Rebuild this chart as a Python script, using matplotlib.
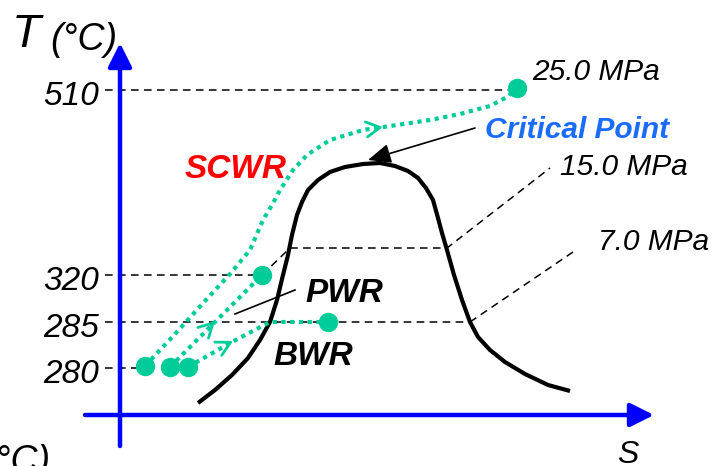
import numpy as np
import matplotlib
matplotlib.use("Agg")
import matplotlib.pyplot as plt

plt.rcParams['font.family'] = ['Liberation Sans', 'DejaVu Sans']

# schematic T-s diagram, everything in pixel coordinates of a 712x466 canvas
GREEN = '#00cc99'
BLUE = '#0000ff'

# saturation dome
dome_x = [198, 215, 232, 248, 260, 270, 277, 283, 288, 292, 297, 302, 308, 318, 330, 345,
          363, 380, 395, 408, 418, 426, 433, 438, 442, 447, 454, 462, 470, 478, 490, 505,
          525, 548, 570]
dome_y = [403, 390, 375, 358, 340, 322, 300, 275, 255, 235, 215, 202, 190, 180, 172, 167,
          164, 163, 166, 171, 178, 188, 200, 218, 233, 250, 275, 300, 322, 337, 350, 362,
          374, 385, 391]

# heating paths
scwr_x = [145, 175, 205, 230, 250, 263, 272, 280, 293, 307, 330, 363, 397, 430, 460, 490, 507, 517]
scwr_y = [366, 334, 301, 274, 250, 220, 205, 190, 170, 155, 140, 130, 125, 120, 114, 106, 97, 88]
pwr_x = [170, 215, 262]
pwr_y = [367, 322, 275]
bwr_x = [188, 230, 270, 328]
bwr_y = [367, 343, 322, 322]

# state points
pts_x = [145, 170, 188, 262, 328, 517]
pts_y = [366, 367, 367, 275, 322, 88]

# chevrons on the paths
chev_scwr = (383, 127)
chev_pwr = (215, 321)
chev_bwr = (233, 341)

# temperature ticks
tick_labels = ['510', '320', '285', '280']
tick_rows = [90, 275, 322, 368]
tick_ends = [517, 262, 470, 145]

# pressure iso-lines (dashed)
p15_x = [262, 290, 447, 550]
p15_y = [275, 248, 248, 168]
p7_x = [470, 573]
p7_y = [322, 252]

fig = plt.figure(figsize=(7.12, 4.66), dpi=100)
ax = fig.add_axes([0, 0, 1, 1])
ax.set_xlim(0, 712)
ax.set_ylim(466, 0)
ax.axis('off')

dash = dict(color='black', lw=1.1, ls=(0, (5, 3.5)))

# dashed temperature lines
for y, xe in zip(tick_rows, tick_ends):
    ax.plot([105, xe], [y, y], **dash, zorder=2)
ax.plot(p15_x, p15_y, **dash, zorder=2)
ax.plot(p7_x, p7_y, **dash, zorder=2)

# dome
ax.plot(dome_x, dome_y, color='black', lw=3, solid_capstyle='butt', zorder=3)

# paths
dot = dict(color=GREEN, lw=3, ls=(0, (1, 1.1)), dash_capstyle='butt', zorder=4)
ax.plot(scwr_x, scwr_y, **dot)
ax.plot(pwr_x, pwr_y, **dot)
ax.plot(bwr_x, bwr_y, **dot)


def chevron(xs, ys, tip):
    xs = np.asarray(xs, float)
    ys = np.asarray(ys, float)
    mids = np.c_[(xs[:-1] + xs[1:]) / 2, (ys[:-1] + ys[1:]) / 2]
    i = np.argmin(np.hypot(mids[:, 0] - tip[0], mids[:, 1] - tip[1]))
    d = np.array([xs[i + 1] - xs[i], ys[i + 1] - ys[i]])
    d = d / np.hypot(*d)
    start = (tip[0] - d[0] * 6, tip[1] - d[1] * 6)
    ax.annotate('', xy=tip, xytext=start,
                arrowprops=dict(arrowstyle='->,head_length=0.55,head_width=0.3',
                                color=GREEN, lw=2, mutation_scale=18,
                                shrinkA=0, shrinkB=0), zorder=5)


chevron(scwr_x, scwr_y, chev_scwr)
chevron(pwr_x, pwr_y, chev_pwr)
chevron(bwr_x, bwr_y, chev_bwr)

ax.plot(pts_x, pts_y, 'o', color=GREEN, ms=14, mec='none', zorder=6)

# axes arrows
ax.annotate('', xy=(120, 43), xytext=(120, 446),
            arrowprops=dict(arrowstyle='-|>,head_length=0.6,head_width=0.3', color=BLUE,
                            lw=3.2, mutation_scale=24, shrinkA=0, shrinkB=0))
ax.annotate('', xy=(654, 415), xytext=(85, 415),
            arrowprops=dict(arrowstyle='-|>,head_length=0.6,head_width=0.3', color=BLUE,
                            lw=3.2, mutation_scale=24, shrinkA=0, shrinkB=0))

# critical point arrow and PWR pointer
ax.annotate('', xy=(368, 160), xytext=(475, 128),
            arrowprops=dict(arrowstyle='-|>,head_length=0.7,head_width=0.3', color='black',
                            lw=1.2, mutation_scale=20, shrinkA=0, shrinkB=0))
ax.plot([295, 235], [290, 314], color='black', lw=1.2)

# labels
for lab, y in zip(tick_labels, tick_rows):
    ax.text(99, y + 15, lab, ha='right', va='baseline', fontsize=24, style='italic')

ax.text(12, 47, 'T', fontsize=34, style='italic', va='baseline')
ax.text(50, 50, '(°C)', fontsize=27, style='italic', va='baseline')
ax.text(-17, 472, '(°C)', fontsize=27, style='italic', va='baseline', clip_on=False)
ax.text(617, 463, 'S', fontsize=23, style='italic', va='baseline')

ax.text(532, 80, '25.0 MPa', fontsize=21.5, style='italic', va='baseline')
ax.text(560, 175, '15.0 MPa', fontsize=21.5, style='italic', va='baseline')
ax.text(598, 250, '7.0 MPa', fontsize=21.5, style='italic', va='baseline')
ax.text(485, 138, 'Critical Point', fontsize=21.5, style='italic', weight='bold',
        color='#1a6cff', va='baseline')
ax.text(185, 178, 'SCWR', fontsize=24, style='italic', weight='bold', color='red', va='baseline')
ax.text(305, 302, 'PWR', fontsize=24, style='italic', weight='bold', va='baseline')
ax.text(273, 365, 'BWR', fontsize=24, style='italic', weight='bold', va='baseline')

fig.savefig('out.png', dpi=100)
